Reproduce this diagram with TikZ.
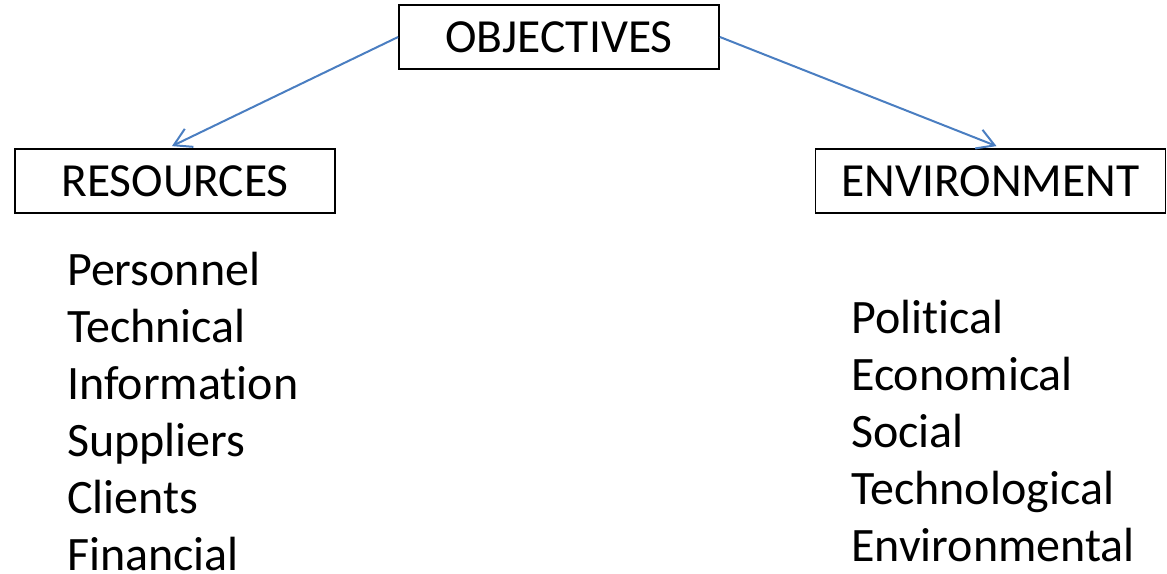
\documentclass[tikz,border=0pt]{standalone}
\usepackage{fontspec}
\setmainfont{Carlito}[Ligatures=NoCommon]
\usetikzlibrary{positioning,arrows.meta}

\definecolor{linkblue}{RGB}{74,126,193}

\tikzset{
  headbox/.style={rectangle, draw=black, line width=1.8pt, minimum height=64pt,
    inner sep=0pt, font=\fontsize{47.5}{54}\selectfont},
  link/.style={draw=linkblue, line width=2pt, -{Straight Barb[length=17pt,width=20pt,line width=2pt]}},
  item/.style={anchor=base west, inner sep=0pt, font=\fontsize{48}{56}\selectfont}
}

\begin{document}
\begin{tikzpicture}[x=1pt,y=-1pt]
  \useasboundingbox (0,0) rectangle (1167,573);

  \node[headbox, minimum width=320pt] (obj) at (559,37) {OBJECTIVES};
  \node[headbox, minimum width=320pt] (res) at (175,181) {RESOURCES};
  \node[headbox, minimum width=350pt] (env) at (990.5,181) {ENVIRONMENT};

  \draw[link] (obj.west) -- ([xshift=-3pt,yshift=2pt]res.north);
  \draw[link] (obj.east) -- ([xshift=6pt,yshift=2pt]env.north);

  % resources list
  \foreach \txt [count=\i] in {Personnel,Technical,Information,Suppliers,Clients,Financial}
    \node[item] (res\i) at (67,{285+57*(\i-1)}) {\txt};

  % environment list
  \foreach \txt [count=\i] in {Political,Economical,Social,Technological,Environmental}
    \node[item] (env\i) at (851,{333+57*(\i-1)}) {\txt};
\end{tikzpicture}
\end{document}
